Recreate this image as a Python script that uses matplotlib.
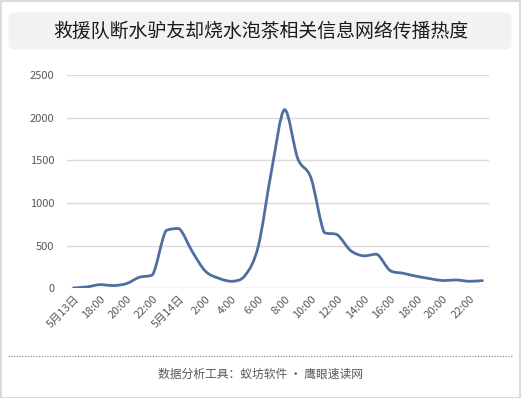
import numpy as np
import matplotlib
matplotlib.use("Agg")
import matplotlib.pyplot as plt
from matplotlib.path import Path
from matplotlib.patches import PathPatch, FancyBboxPatch, Rectangle

plt.rcParams['font.family'] = ['Noto Sans CJK SC', 'DejaVu Sans']

title = "救援队断水驴友却烧水泡茶相关信息网络传播热度"
footer = "数据分析工具：蚁坊软件 · 鹰眼速读网"

# hourly slots, 5/13 16:00 -> 5/14 23:00
slots = ["5月13日", "17:00", "18:00", "19:00", "20:00", "21:00", "22:00", "23:00",
         "5月14日", "1:00", "2:00", "3:00", "4:00", "5:00", "6:00", "7:00",
         "8:00", "9:00", "10:00", "11:00", "12:00", "13:00", "14:00", "15:00",
         "16:00", "17:00", "18:00", "19:00", "20:00", "21:00", "22:00", "23:00"]
heat = [5, 16, 43, 32, 55, 130, 160, 675, 700, 430,
        200, 118, 82, 150, 490, 1370, 2095, 1520, 1294, 655,
        627, 443, 380, 400, 208, 176, 141, 114, 90, 98,
        82, 90]
y_ticks = [0, 500, 1000, 1500, 2000, 2500]

LINE = "#4f6fa0"
GRID = "#d9d9d9"
LABEL = "#595959"


def smooth_path(x, y):
    # smoothed line: catmull-rom beziers, control points kept inside each segment's range
    n = len(x)
    verts = [(x[0], y[0])]
    codes = [Path.MOVETO]
    for i in range(n - 1):
        a = max(i - 1, 0)
        d = min(i + 2, n - 1)
        lo, hi = min(y[i], y[i + 1]), max(y[i], y[i + 1])
        c1y = np.clip(y[i] + (y[i + 1] - y[a]) / 6, lo, hi)
        c2y = np.clip(y[i + 1] - (y[d] - y[i]) / 6, lo, hi)
        c1 = (x[i] + (x[i + 1] - x[a]) / 6, c1y)
        c2 = (x[i + 1] - (x[d] - x[i]) / 6, c2y)
        verts += [c1, c2, (x[i + 1], y[i + 1])]
        codes += [Path.CURVE4] * 3
    return Path(verts, codes)


fig = plt.figure(figsize=(5.21, 3.98), dpi=100)
W, H = 521, 398

# outer border
fig.patches.append(Rectangle((0.5 / W, 0.5 / H), 1 - 1.5 / W, 1 - 1.5 / H, transform=fig.transFigure,
                             fill=False, edgecolor="#d4d4d4", lw=1.2))
# title box
fig.patches.append(FancyBboxPatch((8.5 / W, 1 - 49.5 / H), 503 / W, 37 / H,
                                  boxstyle="round,pad=0,rounding_size=0.012",
                                  transform=fig.transFigure, facecolor="#f2f2f2", edgecolor="none"))
fig.text(0.5, 1 - 31 / H, title, ha="center", va="center", fontsize=13.6, color="#1a1a1a")

ax = fig.add_axes([67 / W, 1 - 288.3 / H, 422 / W, 213.3 / H])
x = np.arange(len(heat))
ax.add_patch(PathPatch(smooth_path(x, heat), fill=False, edgecolor=LINE, lw=2.0,
                       capstyle="round", joinstyle="round", zorder=3))

ax.set_xlim(-0.5, len(heat) - 0.5)
ax.set_ylim(0, 2500)
ax.set_yticks(y_ticks)
ax.grid(axis="y", color=GRID, lw=1.0)
ax.set_axisbelow(True)
for s in ax.spines.values():
    s.set_visible(False)

ticks = list(range(0, len(slots), 2))
ax.set_xticks(ticks)
ax.set_xticklabels([slots[i] for i in ticks], rotation=45, ha="right", va="top",
                   rotation_mode="anchor")
ax.tick_params(axis="x", length=0, pad=4, labelsize=8, labelcolor=LABEL)
ax.tick_params(axis="y", length=0, pad=9, labelsize=8, labelcolor=LABEL)

# footer
fig.add_artist(plt.Line2D([8 / W, 513 / W], [1 - 356 / H, 1 - 356 / H], transform=fig.transFigure,
                          color="#7f7f7f", lw=0.8, linestyle=(0, (1, 1.5))))
fig.text(0.5, 1 - 374 / H, footer, ha="center", va="center", fontsize=8.5, color=LABEL)

fig.savefig("out.png", dpi=100)
